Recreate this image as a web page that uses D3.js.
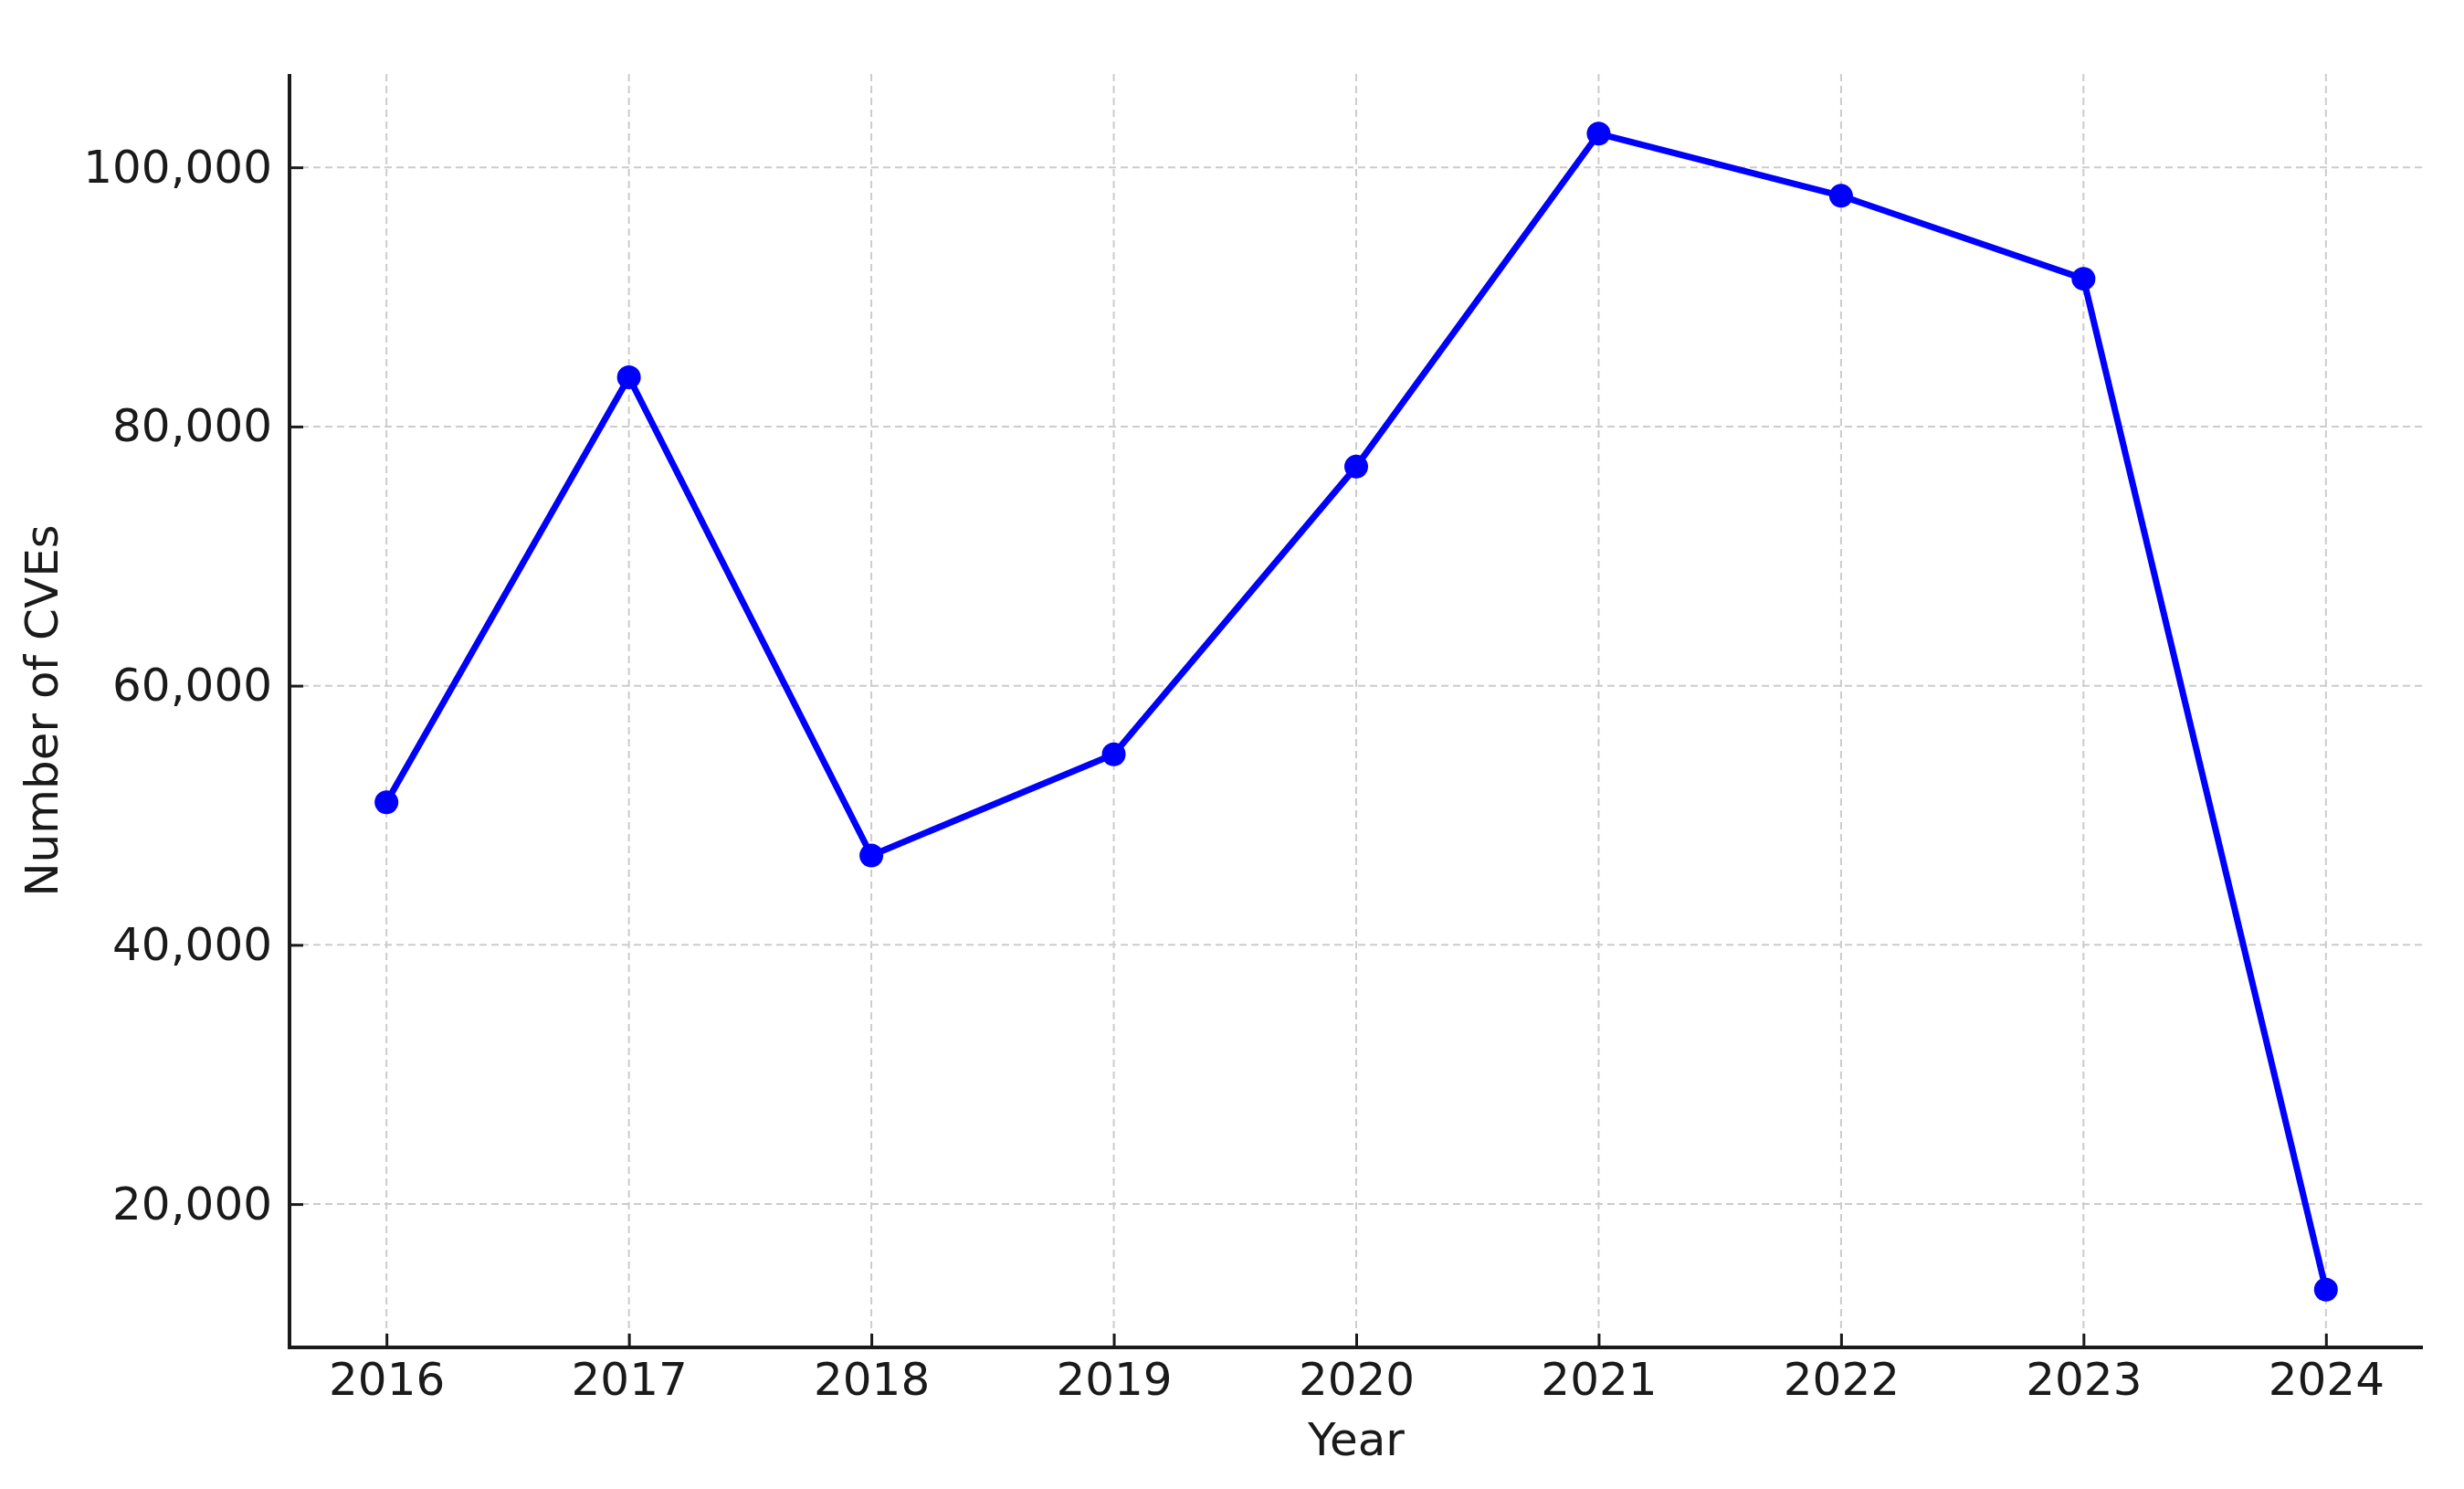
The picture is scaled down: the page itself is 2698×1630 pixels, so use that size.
<!DOCTYPE html>
<html>
<head>
<meta charset="utf-8">
<script src="https://cdn.jsdelivr.net/npm/d3@7"></script>
<style>
  html, body { margin: 0; padding: 0; background: #ffffff; }
  svg { display: block; }
  text { font-family: "DejaVu Sans", sans-serif; fill: #1a1a1a; }
</style>
</head>
<body>
<svg id="chart" width="2698" height="1630"></svg>
<script>
const years = [2016, 2017, 2018, 2019, 2020, 2021, 2022, 2023, 2024];
const cves = [51000, 83800, 46900, 54700, 76900, 102600, 97800, 91400, 13400];
const yTicks = [20000, 40000, 60000, 80000, 100000];
const xLabel = "Year";
const yLabel = "Number of CVEs";

(function () {
const W = 2698, H = 1630;
const mLeft = 317, mRight = 2653, mTop = 81, mBottom = 1475;
const fs = 50;

const svg = d3.select("#chart");
svg.append("rect").attr("width", W).attr("height", H).attr("fill", "#ffffff");

const xPad = (d3.max(years) - d3.min(years)) * 0.05;
const x = d3.scaleLinear()
  .domain([d3.min(years) - xPad, d3.max(years) + xPad])
  .range([mLeft, mRight]);
const yPad = (d3.max(cves) - d3.min(cves)) * 0.05;
const y = d3.scaleLinear()
  .domain([d3.min(cves) - yPad, d3.max(cves) + yPad])
  .range([mBottom, mTop + 2]);

// grid
const grid = svg.append("g");
grid.selectAll("line.gx").data(years).join("line").attr("class", "gx")
  .attr("x1", d => x(d)).attr("x2", d => x(d))
  .attr("y1", mTop).attr("y2", mBottom)
  .attr("stroke", "#cccccc").attr("stroke-width", 2).attr("stroke-dasharray", "8,5");
grid.selectAll("line.gy").data(yTicks).join("line").attr("class", "gy")
  .attr("x1", mLeft).attr("x2", mRight)
  .attr("y1", d => y(d)).attr("y2", d => y(d))
  .attr("stroke", "#cccccc").attr("stroke-width", 2).attr("stroke-dasharray", "8,5");

// axes
const fmt = d3.format(",");
const xAxis = d3.axisBottom(x).tickValues(years).tickFormat(d3.format("d"))
  .tickSizeInner(-15).tickSizeOuter(0).tickPadding(34);
const yAxis = d3.axisLeft(y).tickValues(yTicks).tickFormat(fmt)
  .tickSizeInner(-15).tickSizeOuter(0).tickPadding(34);

const gx = svg.append("g").attr("transform", `translate(0,${mBottom})`).call(xAxis);
const gy = svg.append("g").attr("transform", `translate(${mLeft},0)`).call(yAxis);
gx.select(".domain").remove();
gy.select(".domain").remove();
[gx, gy].forEach(g => {
  g.selectAll(".tick line").attr("stroke", "#1a1a1a").attr("stroke-width", 3);
  g.selectAll(".tick text").attr("font-size", fs).attr("fill", "#1a1a1a")
    .attr("font-family", "DejaVu Sans, sans-serif");
});
gx.selectAll(".tick text").attr("dy", "0.71em").attr("y", 16);
gy.selectAll(".tick text").attr("x", -19);

// spines
svg.append("line").attr("x1", mLeft).attr("x2", mLeft).attr("y1", mTop).attr("y2", mBottom + 2)
  .attr("stroke", "#1a1a1a").attr("stroke-width", 4);
svg.append("line").attr("x1", mLeft - 2).attr("x2", mRight).attr("y1", mBottom).attr("y2", mBottom)
  .attr("stroke", "#1a1a1a").attr("stroke-width", 4);

// line
const line = d3.line().x((d, i) => x(years[i])).y(d => y(d));
svg.append("path").datum(cves).attr("d", line)
  .attr("fill", "none").attr("stroke", "#0000ff").attr("stroke-width", 7)
  .attr("stroke-linejoin", "round").attr("stroke-linecap", "round");
svg.selectAll("circle.pt").data(cves).join("circle").attr("class", "pt")
  .attr("cx", (d, i) => x(years[i])).attr("cy", d => y(d)).attr("r", 13)
  .attr("fill", "#0000ff");

// labels
svg.append("text").attr("x", (mLeft + mRight) / 2).attr("y", 1593)
  .attr("text-anchor", "middle").attr("font-size", fs).text(xLabel);
svg.append("text")
  .attr("transform", `translate(63,${(mTop + mBottom) / 2}) rotate(-90)`)
  .attr("text-anchor", "middle").attr("font-size", fs).text(yLabel);
})();
</script>
</body>
</html>
